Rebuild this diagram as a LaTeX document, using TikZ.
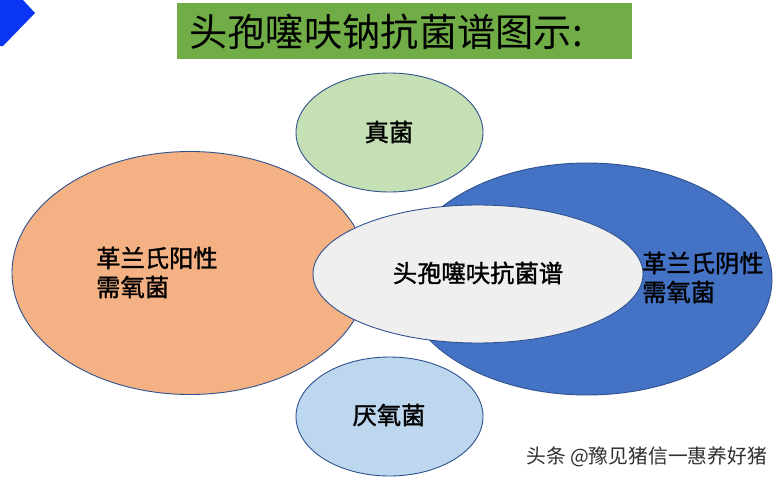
\documentclass[tikz,border=0pt]{standalone}
\usepackage{fontspec}
\setmainfont{Noto Sans CJK SC}
\newfontfamily\cjk{Noto Sans CJK SC}
\newfontfamily\cjkb[FakeBold=1.3]{Noto Sans CJK SC}
\usetikzlibrary{shapes.geometric}
\definecolor{titlegreen}{HTML}{70AD47}
\definecolor{chevblue}{HTML}{0A35F5}
\definecolor{edgeblue}{HTML}{2F528F}
\definecolor{orangefill}{HTML}{F4B183}
\definecolor{bluefill}{HTML}{4472C4}
\definecolor{greyfill}{HTML}{EFEFEF}
\definecolor{greenfill}{HTML}{C5E0B4}
\definecolor{lightbluefill}{HTML}{BDD7EE}
\definecolor{marktext}{HTML}{303030}
\tikzset{
  blob/.style={ellipse, draw=edgeblue, line width=0.9pt, inner sep=0pt},
  lbl/.style={font=\cjkb\fontsize{24.3}{29}\selectfont, text=black, inner sep=0pt},
}
\begin{document}
\begin{tikzpicture}[x=1pt,y=-1pt]
\useasboundingbox (0,0) rectangle (780,480);
\fill[white] (0,0) rectangle (780,480);
% chevron
\fill[chevblue] (0,0) -- (23,0) -- (35,13) -- (3,46) -- (0,46) -- cycle;
% title
\node[fill=titlegreen, minimum width=455pt, minimum height=56pt, inner sep=0pt, anchor=north west] (titlebox) at (177,3) {};
\node[anchor=west, inner sep=0pt, font=\cjk\fontsize{38.3}{40}\selectfont] (title) at (189,32) {头孢噻呋钠抗菌谱图示:};
% ellipses
\node[blob, fill=orangefill, minimum width=356pt, minimum height=243pt] (pos) at (190,273) {};
\node[blob, fill=bluefill, minimum width=370pt, minimum height=232pt] (neg) at (587,279) {};
\node[blob, fill=greyfill, minimum width=330pt, minimum height=138pt] (center) at (478,274) {};
\node[blob, fill=greenfill, minimum width=187pt, minimum height=119pt] (fungi) at (389.5,132.5) {};
\node[blob, fill=lightbluefill, minimum width=187pt, minimum height=119pt] (anaer) at (389.5,416.5) {};
% labels
\node[lbl] (fungit) at (389,132) {真菌};
\node[lbl] (anaert) at (389,415) {厌氧菌};
\node[lbl] (centert) at (478,273) {头孢噻呋抗菌谱};
\node[lbl, anchor=west, align=left] (post) at (96,272.5) {革兰氏阳性\\需氧菌};
\node[lbl, anchor=west, align=left] (negt) at (642,277.5) {革兰氏阴性\\需氧菌};
% watermark
\node[anchor=west, inner sep=0pt, text=white, font=\cjk\fontsize{19.8}{20}\selectfont] (markshadow) at (527.2,458.2) {头条 @豫见猪信一惠养好猪};
\node[anchor=west, inner sep=0pt, text=marktext, font=\cjk\fontsize{19.8}{20}\selectfont] (mark) at (526,457) {头条 @豫见猪信一惠养好猪};
\end{tikzpicture}
\end{document}
